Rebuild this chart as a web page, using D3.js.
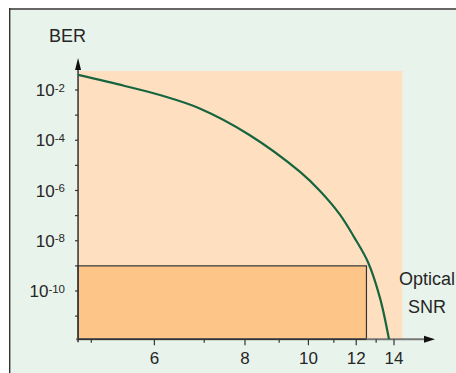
<!DOCTYPE html>
<html lang="en">
<head>
  <meta charset="UTF-8">
  <title>BER vs Optical SNR</title>
  <script src="https://d3js.org/d3.v7.min.js"></script>
  <style>
    body { margin: 0; background: #fff; }
    text { font-family: "Liberation Sans", Arial, sans-serif; fill: #262626; }
  </style>
</head>
<body>
  <div id="body"></div>
  <script>
    // data
    const snr = [4.82, 5.5, 6.1, 6.9, 8.1, 9.7, 10.44, 11.26, 11.9, 12.58, 13.21, 13.72];
    const ber = [4e-2, 1.45e-2, 6.3e-3, 1.84e-3, 1.7e-4, 5.5e-6, 9.6e-7, 1.1e-7, 1.4e-8, 1.4e-9, 5.2e-11, 1.1e-12];

    const xTicks = [5, 6, 7, 8, 9, 10, 11, 12, 13, 14];
    const xTickLabels = [6, 8, 10, 12, 14];
    const yTicks = [1e-2, 1e-3, 1e-4, 1e-5, 1e-6, 1e-7, 1e-8, 1e-9, 1e-10, 1e-11];
    const yTickExponents = [-2, -4, -6, -8, -10];

    // axis extents and the required-quality box
    const snrMin = 4.82, snrMax = 14.5;
    const berMin = 1.2e-12, berMax = 0.057;
    const snrLimit = 12.5, berLimit = 1e-9;

    const width = 456, height = 373;

    const svg = d3.select("#body")
                  .append("svg")
                  .attr("width", width)
                  .attr("height", height);

    // scales (x axis of the sketch is compressed towards high SNR)
    const x = d3.scalePow().exponent(-0.4)
                .domain([5, 14])
                .range([91.3, 394]);

    const y = d3.scaleLog()
                .domain([1e-2, 1e-10])
                .range([90, 291]);

    const x0 = x(snrMin), y0 = y(berMin);

    // frame background
    svg.append("rect")
       .attr("x", 9.5).attr("y", 9)
       .attr("width", width).attr("height", height)
       .attr("fill", "#e8f3eb");
    svg.append("line")
       .attr("x1", 9).attr("x2", width).attr("y1", 9).attr("y2", 9)
       .attr("stroke", "#666").attr("stroke-width", 2.2);
    svg.append("line")
       .attr("x1", 9.7).attr("x2", 9.7).attr("y1", 8).attr("y2", height)
       .attr("stroke", "#333").attr("stroke-width", 1.4);

    // plot area
    svg.append("rect")
       .attr("x", x0).attr("y", y(berMax))
       .attr("width", x(snrMax) - x0)
       .attr("height", y0 - y(berMax))
       .attr("fill", "#fee0c0");

    // box under the limit
    svg.append("rect")
       .attr("x", x0).attr("y", y(berLimit))
       .attr("width", x(snrLimit) - x0)
       .attr("height", y0 - y(berLimit))
       .attr("fill", "#fdc688")
       .attr("stroke", "#333")
       .attr("stroke-width", 1.2);

    // x axis
    svg.append("line")
       .attr("x1", x0 - 2).attr("x2", 426).attr("y1", y0).attr("y2", y0)
       .attr("stroke", "#777").attr("stroke-width", 2);
    svg.append("path")
       .attr("d", `M424,${y0 - 3.5}L435,${y0}L424,${y0 + 3.5}Z`)
       .attr("fill", "#111");
    svg.append("line")
       .attr("x1", x0).attr("x2", x(snrLimit)).attr("y1", y0).attr("y2", y0)
       .attr("stroke", "#333").attr("stroke-width", 1.5);

    svg.selectAll(".xtick")
       .data(xTicks)
       .enter()
       .append("line")
       .attr("x1", d => x(d)).attr("x2", d => x(d))
       .attr("y1", y0)
       .attr("y2", d => y0 + (xTickLabels.includes(d) ? 6 : 3.5))
       .attr("stroke", "#333").attr("stroke-width", 1.2);

    svg.selectAll(".xlabel")
       .data(xTickLabels)
       .enter()
       .append("text")
       .attr("x", d => x(d))
       .attr("y", y0 + 25)
       .attr("font-size", "17px")
       .attr("text-anchor", "middle")
       .text(d => d);

    // y axis
    svg.append("line")
       .attr("x1", x0).attr("x2", x0).attr("y1", y0 + 3).attr("y2", 68)
       .attr("stroke", "#333").attr("stroke-width", 1.5);
    svg.append("path")
       .attr("d", `M${x0 - 3},70L${x0},58L${x0 + 3},70Z`)
       .attr("fill", "#111");

    svg.selectAll(".ytick")
       .data(yTicks)
       .enter()
       .append("line")
       .attr("x1", x0 - 3).attr("x2", x0)
       .attr("y1", d => y(d)).attr("y2", d => y(d))
       .attr("stroke", "#333").attr("stroke-width", 1.2);

    const ylab = svg.selectAll(".ylabel")
       .data(yTickExponents)
       .enter()
       .append("text")
       .attr("x", 65)
       .attr("y", d => y(Math.pow(10, d)) + 6)
       .attr("font-size", "17px")
       .attr("text-anchor", "end");
    ylab.append("tspan").text("10");
    ylab.append("tspan")
        .attr("dy", -4.5)
        .attr("font-size", "11.5px")
        .text(d => d);

    // curve
    svg.append("clipPath").attr("id", "clip")
       .append("rect")
       .attr("x", x0).attr("y", 0)
       .attr("width", width).attr("height", y0);

    const line = d3.line()
                   .x(d => x(d[0]))
                   .y(d => y(d[1]))
                   .curve(d3.curveCatmullRom.alpha(0.5));

    svg.append("path")
       .datum(d3.zip(snr, ber))
       .attr("d", line)
       .attr("clip-path", "url(#clip)")
       .attr("fill", "none")
       .attr("stroke", "#17653f")
       .attr("stroke-width", 2.2);

    // axis titles
    svg.append("text")
       .attr("x", 67.5).attr("y", 42)
       .attr("font-size", "18px")
       .attr("text-anchor", "middle")
       .text("BER");
    svg.append("text")
       .attr("x", 427).attr("y", 285)
       .attr("font-size", "18px")
       .attr("text-anchor", "middle")
       .text("Optical");
    svg.append("text")
       .attr("x", 427).attr("y", 313)
       .attr("font-size", "18px")
       .attr("text-anchor", "middle")
       .text("SNR");
  </script>
</body>
</html>
